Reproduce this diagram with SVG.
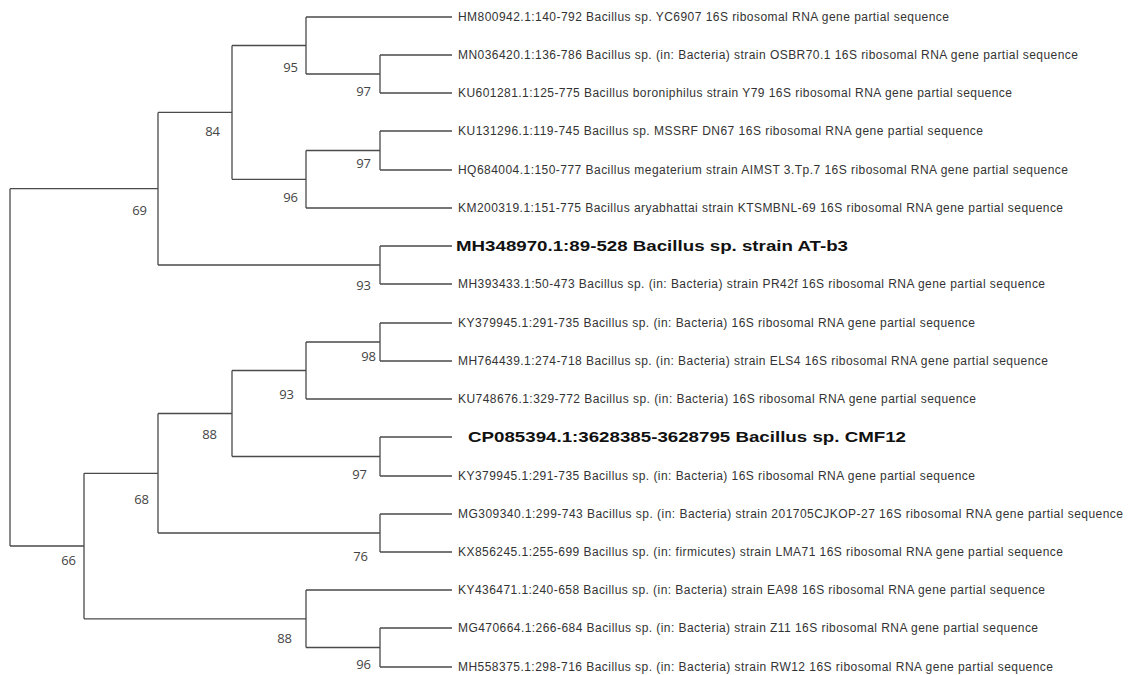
<svg xmlns="http://www.w3.org/2000/svg" width="1131" height="675" viewBox="0 0 1131 675">
<style>
.br{fill:none;stroke:#4a4a4a;stroke-width:1.3}
.lf{font-family:"Liberation Sans",Arial,sans-serif;font-size:12px;fill:#333}
.bd{font-family:"Liberation Sans",Arial,sans-serif;font-size:15px;font-weight:bold;fill:#111}
.bs{font-family:"Open Sans","Noto Sans",sans-serif;font-size:13px;fill:#444;text-anchor:end}
</style>
<rect width="1131" height="675" fill="#fff"/>
<g id="connectors">
<path class="br" d="M10,188.7V546"/>
<path class="br" d="M10,188.7H158M10,546H84"/>
<path class="br" d="M158,112.4V265M158,112.4H232M158,265H380"/>
<path class="br" d="M232,45.5V179.3M232,45.5H306M232,179.3H306"/>
<path class="br" d="M306,17V74M306,17H452M306,74H380"/>
<path class="br" d="M380,55V93M380,55H452M380,93H452"/>
<path class="br" d="M306,150.5V208M306,150.5H380M306,208H452"/>
<path class="br" d="M380,131V170M380,131H452M380,170H452"/>
<path class="br" d="M380,246V284M380,246H452M380,284H452"/>
<path class="br" d="M84,473.3V618.8M84,473.3H158M84,618.8H306"/>
<path class="br" d="M158,413.5V533M158,413.5H232M158,533H380"/>
<path class="br" d="M232,370.5V456.5M232,370.5H306M232,456.5H380"/>
<path class="br" d="M306,342V399M306,342H380M306,399H452"/>
<path class="br" d="M380,323V361M380,323H452M380,361H452"/>
<path class="br" d="M380,437V476M380,437H452M380,476H452"/>
<path class="br" d="M380,514V552M380,514H452M380,552H452"/>
<path class="br" d="M306,590V647.5M306,590H452M306,647.5H380"/>
<path class="br" d="M380,628V667M380,628H452M380,667H452"/>
</g>
<g id="leaf1"><text class="lf" x="458" y="21" textLength="491">HM800942.1:140-792 Bacillus sp. YC6907 16S ribosomal RNA gene partial sequence</text></g>
<g id="leaf2"><text class="lf" x="458" y="59" textLength="620">MN036420.1:136-786 Bacillus sp. (in: Bacteria) strain OSBR70.1 16S ribosomal RNA gene partial sequence</text></g>
<g id="leaf3"><text class="lf" x="458" y="97" textLength="554">KU601281.1:125-775 Bacillus boroniphilus strain Y79 16S ribosomal RNA gene partial sequence</text></g>
<g id="leaf4"><text class="lf" x="458" y="135" textLength="525">KU131296.1:119-745 Bacillus sp. MSSRF DN67 16S ribosomal RNA gene partial sequence</text></g>
<g id="leaf5"><text class="lf" x="458" y="174" textLength="610">HQ684004.1:150-777 Bacillus megaterium strain AIMST 3.Tp.7 16S ribosomal RNA gene partial sequence</text></g>
<g id="leaf6"><text class="lf" x="458" y="212" textLength="605">KM200319.1:151-775 Bacillus aryabhattai strain KTSMBNL-69 16S ribosomal RNA gene partial sequence</text></g>
<g id="leaf7"><text class="bd" x="456" y="251" textLength="392" lengthAdjust="spacingAndGlyphs">MH348970.1:89-528 Bacillus sp. strain AT-b3</text></g>
<g id="leaf8"><text class="lf" x="458" y="288" textLength="587">MH393433.1:50-473 Bacillus sp. (in: Bacteria) strain PR42f 16S ribosomal RNA gene partial sequence</text></g>
<g id="leaf9"><text class="lf" x="458" y="327" textLength="517">KY379945.1:291-735 Bacillus sp. (in: Bacteria) 16S ribosomal RNA gene partial sequence</text></g>
<g id="leaf10"><text class="lf" x="458" y="365" textLength="590">MH764439.1:274-718 Bacillus sp. (in: Bacteria) strain ELS4 16S ribosomal RNA gene partial sequence</text></g>
<g id="leaf11"><text class="lf" x="458" y="403" textLength="518">KU748676.1:329-772 Bacillus sp. (in: Bacteria) 16S ribosomal RNA gene partial sequence</text></g>
<g id="leaf12"><text class="bd" x="468" y="442" textLength="438" lengthAdjust="spacingAndGlyphs">CP085394.1:3628385-3628795 Bacillus sp. CMF12</text></g>
<g id="leaf13"><text class="lf" x="458" y="480" textLength="517">KY379945.1:291-735 Bacillus sp. (in: Bacteria) 16S ribosomal RNA gene partial sequence</text></g>
<g id="leaf14"><text class="lf" x="458" y="518" textLength="665">MG309340.1:299-743 Bacillus sp. (in: Bacteria) strain 201705CJKOP-27 16S ribosomal RNA gene partial sequence</text></g>
<g id="leaf15"><text class="lf" x="458" y="556" textLength="605">KX856245.1:255-699 Bacillus sp. (in: firmicutes) strain LMA71 16S ribosomal RNA gene partial sequence</text></g>
<g id="leaf16"><text class="lf" x="458" y="594" textLength="587">KY436471.1:240-658 Bacillus sp. (in: Bacteria) strain EA98 16S ribosomal RNA gene partial sequence</text></g>
<g id="leaf17"><text class="lf" x="458" y="632" textLength="580">MG470664.1:266-684 Bacillus sp. (in: Bacteria) strain Z11 16S ribosomal RNA gene partial sequence</text></g>
<g id="leaf18"><text class="lf" x="458" y="671" textLength="595">MH558375.1:298-716 Bacillus sp. (in: Bacteria) strain RW12 16S ribosomal RNA gene partial sequence</text></g>
<g id="nodeB"><text class="bs" x="298" y="72">95</text></g>
<g id="nodeA"><text class="bs" x="371" y="96">97</text></g>
<g id="nodeE"><text class="bs" x="220" y="136">84</text></g>
<g id="nodeC"><text class="bs" x="371" y="168">97</text></g>
<g id="nodeD"><text class="bs" x="298" y="202">96</text></g>
<g id="nodeG"><text class="bs" x="147" y="215">69</text></g>
<g id="nodeF"><text class="bs" x="371" y="290">93</text></g>
<g id="nodeH"><text class="bs" x="376" y="361">98</text></g>
<g id="nodeI"><text class="bs" x="294" y="399">93</text></g>
<g id="nodeK"><text class="bs" x="217" y="439">88</text></g>
<g id="nodeJ"><text class="bs" x="367" y="479">97</text></g>
<g id="nodeN"><text class="bs" x="149" y="504">68</text></g>
<g id="nodeM"><text class="bs" x="368" y="561">76</text></g>
<g id="nodeR"><text class="bs" x="76" y="565">66</text></g>
<g id="nodeQ"><text class="bs" x="292" y="643">88</text></g>
<g id="nodeP"><text class="bs" x="371" y="669">96</text></g>
</svg>
